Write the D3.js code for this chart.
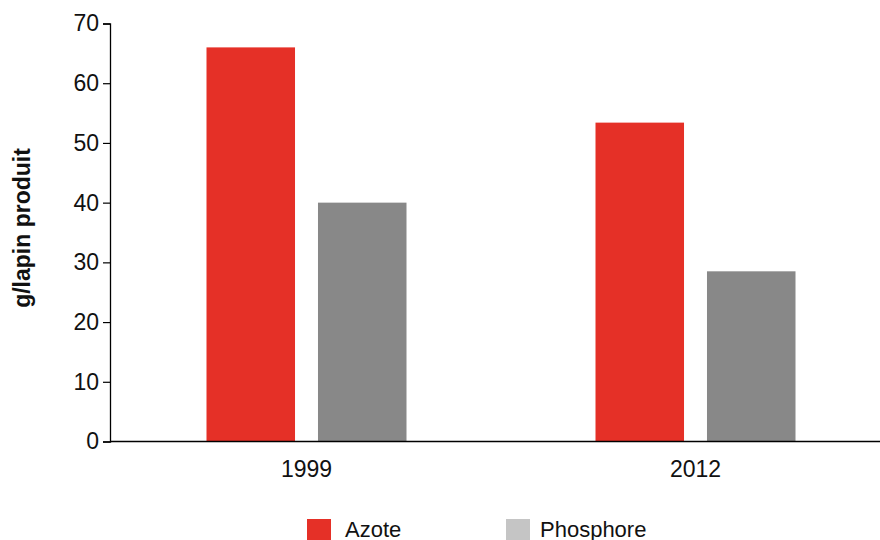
<!DOCTYPE html>
<html>
<head>
<meta charset="utf-8">
<script src="https://cdn.jsdelivr.net/npm/d3@7"></script>
<style>
  body { margin: 0; background: #fff; }
  text { font-family: "Liberation Sans", Arial, sans-serif; }
</style>
</head>
<body>
<div id="chart"></div>
<script>
const years = ["1999", "2012"];
const series = ["Azote", "Phosphore"];
const azote = [66, 53.4];
const phosphore = [40, 28.5];
const yTicks = [0, 10, 20, 30, 40, 50, 60, 70];

const W = 880, H = 540;
const barColor = { Azote: "#e53027", Phosphore: "#888888" };
const legendColor = { Azote: "#e53027", Phosphore: "#c5c5c5" };

const svg = d3.select("#chart").append("svg")
  .attr("width", W)
  .attr("height", H);

const x0 = d3.scaleBand().domain(years).range([112, 890]).padding(0);
const bw = x0.bandwidth();
const x1 = d3.scaleBand().domain(series)
  .range([bw / 2 - 100, bw / 2 + 100]).paddingInner(0.206);
const y = d3.scaleLinear().domain([0, 70]).range([441.5, 23.5]);

const rows = years.map((yr, i) => ({ year: yr, Azote: azote[i], Phosphore: phosphore[i] }));

// bars
const g = svg.append("g").selectAll("g").data(rows).join("g")
  .attr("transform", d => `translate(${x0(d.year)},0)`);
g.selectAll("rect").data(d => series.map(k => ({ key: k, value: d[k] }))).join("rect")
  .attr("x", d => x1(d.key))
  .attr("width", x1.bandwidth())
  .attr("y", d => y(d.value))
  .attr("height", d => y(0) - y(d.value))
  .attr("fill", d => barColor[d.key]);

// y axis
const yAxis = svg.append("g")
  .attr("transform", "translate(110,0)")
  .call(d3.axisLeft(y).tickValues(yTicks).tickSize(7).tickPadding(4));
yAxis.select(".domain").attr("stroke", "#000").attr("stroke-width", 1.3);
yAxis.selectAll(".tick line").attr("stroke", "#000").attr("stroke-width", 1.2);
yAxis.selectAll(".tick text")
  .style("font-size", "23px")
  .attr("fill", "#111");

// baseline
svg.append("line")
  .attr("x1", 110).attr("x2", 880)
  .attr("y1", y(0)).attr("y2", y(0))
  .attr("stroke", "#000").attr("stroke-width", 1.3);

// x labels
svg.append("g").selectAll("text").data(years).join("text")
  .attr("x", d => x0(d) + bw / 2)
  .attr("y", 477)
  .attr("text-anchor", "middle")
  .style("font-size", "23px")
  .attr("fill", "#111")
  .text(d => d);

// y title
svg.append("text")
  .attr("transform", "translate(30,228) rotate(-90)")
  .attr("text-anchor", "middle")
  .style("font-size", "23px")
  .style("font-weight", "bold")
  .attr("fill", "#111")
  .text("g/lapin produit");

// legend (cut by the bottom edge, as in the original)
const leg = svg.append("g").selectAll("g").data(series).join("g")
  .attr("transform", (d, i) => `translate(${307 + i * 199},519)`);
leg.append("rect")
  .attr("width", 24).attr("height", 22)
  .attr("fill", d => legendColor[d]);
leg.append("text")
  .attr("x", (d, i) => i ? 34 : 38).attr("y", 18)
  .style("font-size", "22px")
  .attr("fill", "#111")
  .text(d => d);
</script>
</body>
</html>
